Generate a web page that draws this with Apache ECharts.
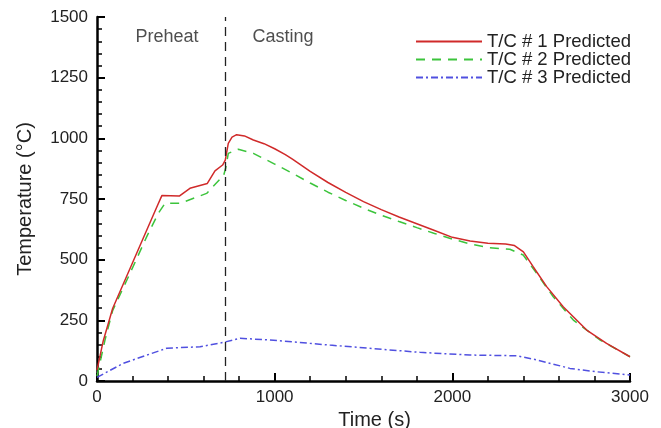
<!DOCTYPE html>
<html>
<head>
<meta charset="utf-8">
<script src="https://cdn.jsdelivr.net/npm/echarts@6/dist/echarts.min.js"></script>
<style>
  html, body { margin: 0; padding: 0; background: #fff; }
  #main { width: 661px; height: 428px; }
</style>
</head>
<body>
<div id="main"></div>
<script>
// T/C #1
var tc1Time = [0, 35, 88, 200, 336, 345, 365, 463, 523, 621, 664, 707, 722, 739, 760, 786, 830, 880, 940, 1000, 1060, 1100, 1200, 1300, 1400, 1500, 1600, 1700, 1800, 1900, 2000, 2100, 2200, 2300, 2350, 2400, 2455, 2531, 2624, 2756, 2868, 3000];
var tc1Temp = [45, 165, 299, 487, 716, 722, 764, 762, 794, 814, 866, 890, 910, 979, 1005, 1015, 1010, 993, 978, 957, 933, 914, 864, 818, 777, 739, 706, 676, 648, 620, 592, 577, 568, 565, 558, 532, 471, 389, 306, 210, 155, 100];
// T/C #2
var tc2Time = [0, 45, 88, 186, 280, 345, 383, 467, 617, 690, 711, 725, 739, 795, 880, 1000, 1100, 1200, 1300, 1400, 1500, 1600, 1700, 1800, 1900, 2000, 2100, 2200, 2324, 2399, 2474, 2568, 2681, 2831, 3000];
var tc2Temp = [20, 169, 290, 444, 595, 691, 732, 732, 773, 830, 842, 880, 938, 955, 938, 894, 856, 816, 778, 744, 712, 683, 657, 632, 608, 585, 565, 550, 543, 519, 444, 347, 251, 169, 100];
// T/C #3
var tc3Time = [0, 148, 392, 580, 711, 805, 974, 1311, 1818, 2099, 2362, 2474, 2662, 2812, 3000];
var tc3Temp = [15, 73, 135, 141, 159, 176, 169, 148, 118, 107, 104, 87, 52, 38, 25];

var seriesNames = ['T/C # 1 Predicted', 'T/C # 2 Predicted', 'T/C # 3 Predicted'];
var phaseSplit = 720;
var noteText = ['Preheat', 'Casting'];
var noteTime = [394, 1047];
var noteTemp = [1418, 1418];

function pairs(xs, ys) {
  var out = [];
  for (var i = 0; i < xs.length; i++) {
    out.push([xs[i], ys[i]]);
  }
  return out;
}

var notes = [];
for (var i = 0; i < noteText.length; i++) {
  notes.push({ value: [noteTime[i], noteTemp[i]], name: noteText[i] });
}

var chart = echarts.init(document.getElementById('main'));
var font = "'Liberation Sans', Arial, sans-serif";

var option = {
  backgroundColor: '#fff',
  animation: false,
  textStyle: { fontFamily: font },
  grid: { left: 97, right: 31, top: 17, bottom: 47, containLabel: false, outerBoundsMode: 'none' },
  legend: {
    data: seriesNames,
    orient: 'vertical',
    left: 410,
    top: 27,
    itemWidth: 66,
    itemHeight: 12,
    itemGap: -1,
    itemStyle: { opacity: 0 },
    textStyle: { fontSize: 18.5, lineHeight: 18, color: '#222', fontFamily: font }
  },
  xAxis: {
    type: 'value',
    min: 0,
    max: 3000,
    interval: 1000,
    name: 'Time (s)',
    nameLocation: 'middle',
    nameGap: 27,
    nameTextStyle: { fontSize: 20, color: '#222', padding: [0, 0, 0, 22], verticalAlign: 'top' },
    axisLine: { show: true, lineStyle: { color: '#000', width: 2.5 } },
    axisTick: { show: true, inside: true, length: 8, lineStyle: { color: '#000', width: 2 } },
    minorTick: { show: true, splitNumber: 5, length: 5, lineStyle: { color: '#000', width: 1.5 } },
    axisLabel: { fontSize: 17, color: '#222', margin: 8, formatter: function (v) { return String(v); } },
    splitLine: { show: false },
    minorSplitLine: { show: false }
  },
  yAxis: {
    type: 'value',
    min: 0,
    max: 1500,
    interval: 250,
    name: 'Temperature (°C)',
    nameLocation: 'middle',
    nameGap: 62,
    nameTextStyle: { fontSize: 20, color: '#222' },
    axisLine: { show: true, lineStyle: { color: '#000', width: 2.5 } },
    axisTick: { show: true, inside: true, length: 8, lineStyle: { color: '#000', width: 2 } },
    minorTick: { show: true, splitNumber: 5, length: 5, lineStyle: { color: '#000', width: 1.5 } },
    axisLabel: { fontSize: 17, color: '#222', margin: 9, formatter: function (v) { return String(v); } },
    splitLine: { show: false },
    minorSplitLine: { show: false }
  },
  series: [
    {
      name: seriesNames[0],
      type: 'line',
      data: pairs(tc1Time, tc1Temp),
      showSymbol: false,
      symbol: 'none',
      color: '#d02a2a',
      lineStyle: { color: '#d02a2a', width: 1.5 },
      z: 3,
      markLine: {
        silent: true,
        symbol: 'none',
        label: { show: false },
        lineStyle: { color: '#222', type: [9, 6], width: 1.3 },
        data: [{ xAxis: phaseSplit }]
      }
    },
    {
      name: seriesNames[1],
      type: 'line',
      data: pairs(tc2Time, tc2Temp),
      showSymbol: false,
      symbol: 'none',
      color: '#3cc43c',
      lineStyle: { color: '#3cc43c', width: 1.5, type: [9, 7] },
      z: 2
    },
    {
      name: seriesNames[2],
      type: 'line',
      data: pairs(tc3Time, tc3Temp),
      showSymbol: false,
      symbol: 'none',
      color: '#5050e0',
      lineStyle: { color: '#5050e0', width: 1.5, type: [7, 3, 2, 3] },
      z: 2
    },
    {
      name: 'notes',
      type: 'scatter',
      data: notes,
      symbolSize: 0,
      silent: true,
      label: {
        show: true,
        position: 'inside',
        formatter: function (p) { return p.name; },
        fontSize: 18,
        color: '#222',
        fontFamily: font
      }
    }
  ]
};

chart.setOption(option);
</script>
</body>
</html>
